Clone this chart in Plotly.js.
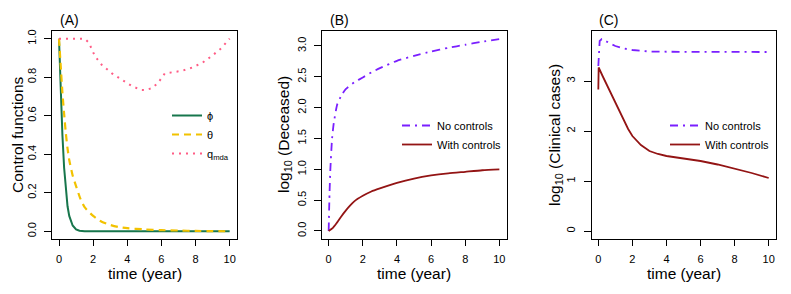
<!DOCTYPE html>
<html><head><meta charset="utf-8">
<script src="https://cdn.plot.ly/plotly-3.0.1.min.js"></script>
<style>html,body{margin:0;padding:0;background:#fff}#plot{width:791px;height:294px}</style>
</head><body><div id="plot"></div>
<script>
// Panel A: control functions
const tPhi = [0, 0.05, 0.1, 0.15, 0.2, 0.3, 0.4, 0.5, 0.6, 0.7, 0.8, 1.0, 1.2, 1.5, 3, 5, 7, 10];
const phi  = [1.0, 0.85, 0.72, 0.6, 0.5, 0.33, 0.21, 0.13, 0.08, 0.05, 0.03, 0.01, 0.003, 0.0, 0.0, 0.0, 0.0, 0.0];
const tTheta = [0, 0.1, 0.2, 0.3, 0.4, 0.5, 0.6, 0.8, 1.0, 1.25, 1.5, 2, 2.5, 3, 3.5, 4, 5, 6, 7, 8, 10];
const theta  = [1.0, 0.86, 0.72, 0.61, 0.51, 0.43, 0.37, 0.29, 0.235, 0.17, 0.125, 0.08, 0.05, 0.033, 0.022, 0.016, 0.01, 0.006, 0.004, 0.002, 0.0];
const tQ = [0, 0.5, 1.0, 1.5, 1.75, 2.1, 2.5, 3.1, 3.7, 4.25, 4.8, 5.05, 5.45, 5.8, 6.2, 6.6, 7.2, 7.8, 8.4, 8.95, 9.5, 10];
const qmda = [1.0, 1.0, 1.0, 1.0, 0.98, 0.91, 0.865, 0.82, 0.786, 0.755, 0.734, 0.733, 0.743, 0.77, 0.82, 0.825, 0.833, 0.85, 0.875, 0.91, 0.95, 1.0];

// Panel B: log10(Deceased)
const tB = [0, 0.05, 0.1, 0.2, 0.3, 0.5, 0.75, 1, 1.5, 2, 2.5, 3, 4, 5, 6, 7, 8, 9, 10];
const deadNo = [0, 0.6, 1.0, 1.5, 1.75, 2.05, 2.2, 2.3, 2.41, 2.49, 2.57, 2.64, 2.76, 2.84, 2.91, 2.97, 3.02, 3.07, 3.11];
const tB2 = [0, 0.25, 0.5, 0.75, 1, 1.25, 1.5, 2, 2.5, 3, 4, 5, 6, 7, 8, 9, 10];
const deadWith = [0, 0.05, 0.14, 0.24, 0.33, 0.41, 0.48, 0.57, 0.64, 0.69, 0.78, 0.85, 0.9, 0.935, 0.96, 0.985, 1.0];

// Panel C: log10(Clinical cases)
const tC1 = [0, 0.03, 0.08, 0.2, 0.4, 0.7, 1, 1.5, 2, 2.5, 3, 4, 6, 8, 10];
const casesNo = [3.3, 3.7, 3.8, 3.84, 3.81, 3.75, 3.7, 3.65, 3.62, 3.6, 3.59, 3.585, 3.58, 3.58, 3.58];
const tC2 = [0, 0.02, 0.25, 0.5, 0.75, 1, 1.25, 1.5, 1.75, 2, 2.25, 2.5, 3, 3.5, 4, 5, 6, 7, 8, 9, 10];
const casesWith = [2.83, 3.27, 3.1, 2.92, 2.73, 2.55, 2.37, 2.2, 2.04, 1.9, 1.8, 1.72, 1.6, 1.54, 1.5, 1.45, 1.4, 1.33, 1.25, 1.16, 1.06];

const xTicks = [0, 2, 4, 6, 8, 10];
const yTicksA = [0, 0.2, 0.4, 0.6, 0.8, 1.0];
const yTicksB = [0, 0.5, 1.0, 1.5, 2.0, 2.5, 3.0];
const yTicksC = [0, 1, 2, 3];
const panelLabels = ['(A)', '(B)', '(C)'];
const xTitle = 'time (year)';
const yTitles = ['Control functions', 'log<sub>10</sub> (Deceased)', 'log<sub>10</sub> (Clinical cases)'];

const FONT = 'Liberation Sans, Arial, sans-serif';
const cGreen = '#17764c', cGold = '#f2c200', cPink = '#ff5c85', cPurple = '#7a1fff', cRed = '#931414';

// y4/y5/y6 are label-only overlays that share the ranges of y/y2/y3
const traces = [
  {x: tPhi, y: phi, xaxis: 'x', yaxis: 'y', mode: 'lines', name: 'ϕ', legend: 'legend',
   line: {color: cGreen, width: 2}},
  {x: tTheta, y: theta, xaxis: 'x', yaxis: 'y', mode: 'lines', name: 'θ', legend: 'legend',
   line: {color: cGold, width: 2.2, dash: '7px,5px', shape: 'spline', smoothing: 0.6}},
  {x: tQ, y: qmda, xaxis: 'x', yaxis: 'y4', mode: 'lines', name: 'q<sub>mda</sub>', legend: 'legend',
   line: {color: cPink, width: 2, dash: '2px,5px'}},
  {x: tB, y: deadNo, xaxis: 'x2', yaxis: 'y2', mode: 'lines', name: 'No controls', legend: 'legend2',
   line: {color: cPurple, width: 1.8, dash: '8px,5px,2px,5px', shape: 'spline', smoothing: 0.5}},
  {x: tB2, y: deadWith, xaxis: 'x2', yaxis: 'y5', mode: 'lines', name: 'With controls', legend: 'legend2',
   line: {color: cRed, width: 1.8, shape: 'spline', smoothing: 0.6}},
  {x: tC1, y: casesNo, xaxis: 'x3', yaxis: 'y3', mode: 'lines', name: 'No controls', legend: 'legend3',
   line: {color: cPurple, width: 1.8, dash: '8px,5px,2px,5px'}},
  {x: tC2, y: casesWith, xaxis: 'x3', yaxis: 'y6', mode: 'lines', name: 'With controls', legend: 'legend3',
   line: {color: cRed, width: 1.8}}
];

const W = 791, H = 294;
const yDom = [1 - 239 / H, 1 - 31 / H];
const boxes = [[52, 237], [322, 506.7], [591.5, 775.7]];
const yTitleX = [17, 284, 555];
const panelLabelX = [58, 328, 597];
const yRanges = [[-0.04, 1.04], [-0.13, 3.243], [-0.16, 4.0]];
const xRanges = [[-0.41, 10.43], [-0.39, 10.43], [-0.4, 10.41]];
const yTickSets = [yTicksA, yTicksB, yTicksC];
const yFmts = [v => v.toFixed(1), v => v.toFixed(1), v => String(v)];

const layout = {
  width: W, height: H, margin: {l: 0, r: 0, t: 0, b: 0}, paper_bgcolor: '#fff', plot_bgcolor: '#fff',
  font: {family: FONT, color: '#000'}, showlegend: true, annotations: []
};

function legendAt(xpx, ypx) {
  return {x: xpx / W, y: 1 - ypx / H, xanchor: 'left', yanchor: 'top', bgcolor: 'rgba(0,0,0,0)',
    borderwidth: 0, font: {size: 11, color: '#000', family: FONT}, itemwidth: 30, tracegroupgap: 0};
}
layout.legend = legendAt(167, 101);
layout.legend2 = legendAt(397, 111);
layout.legend3 = legendAt(665, 111);

for (let i = 0; i < 3; i++) {
  const s = i ? String(i + 1) : '';
  const ov = String(i + 4);
  const b = boxes[i];
  layout['xaxis' + s] = {domain: [b[0] / W, b[1] / W], range: xRanges[i], anchor: 'y' + s,
    tickvals: xTicks, ticks: 'outside', ticklen: 6, tickwidth: 1, tickcolor: '#000',
    showline: true, mirror: true, linecolor: '#000', linewidth: 1, showgrid: false, zeroline: false,
    ticklabelstandoff: 4, tickfont: {size: 11, color: '#000', family: FONT}};
  // main y axis: box line and tick marks
  layout['yaxis' + s] = {domain: yDom, range: yRanges[i], anchor: 'x' + s, tickvals: yTickSets[i],
    ticks: 'outside', ticklen: 7, tickwidth: 1, tickcolor: '#000', showticklabels: false,
    showline: true, mirror: true, linecolor: '#000', linewidth: 1, showgrid: false, zeroline: false};
  // overlay y axis: rotated tick labels placed further out, as in base R graphics
  layout['yaxis' + ov] = {domain: yDom, range: yRanges[i], overlaying: 'y' + s, matches: 'y' + s,
    anchor: 'free', position: (b[0] - 14) / W, side: 'left', tickvals: yTickSets[i],
    ticktext: yTickSets[i].map(yFmts[i]), ticks: '', showline: false, showgrid: false, zeroline: false,
    tickangle: -90, tickfont: {size: 11, color: '#000', family: FONT}};

  layout.annotations.push({text: panelLabels[i], x: panelLabelX[i] / W, y: 1 - 20 / H, xref: 'paper', yref: 'paper',
    xanchor: 'left', yanchor: 'middle', showarrow: false, font: {size: 14, color: '#000', family: FONT}});
  layout.annotations.push({text: xTitle, x: (b[0] + b[1]) / 2 / W, y: 1 - 273 / H, xref: 'paper', yref: 'paper',
    xanchor: 'center', yanchor: 'middle', showarrow: false, font: {size: 15.5, color: '#000', family: FONT}});
  layout.annotations.push({text: yTitles[i], x: yTitleX[i] / W, y: 1 - 135 / H, xref: 'paper', yref: 'paper',
    xanchor: 'center', yanchor: 'middle', textangle: -90, showarrow: false,
    font: {size: 15.5, color: '#000', family: FONT}});
}

Plotly.newPlot('plot', traces, layout, {staticPlot: true, displayModeBar: false});
</script></body></html>
